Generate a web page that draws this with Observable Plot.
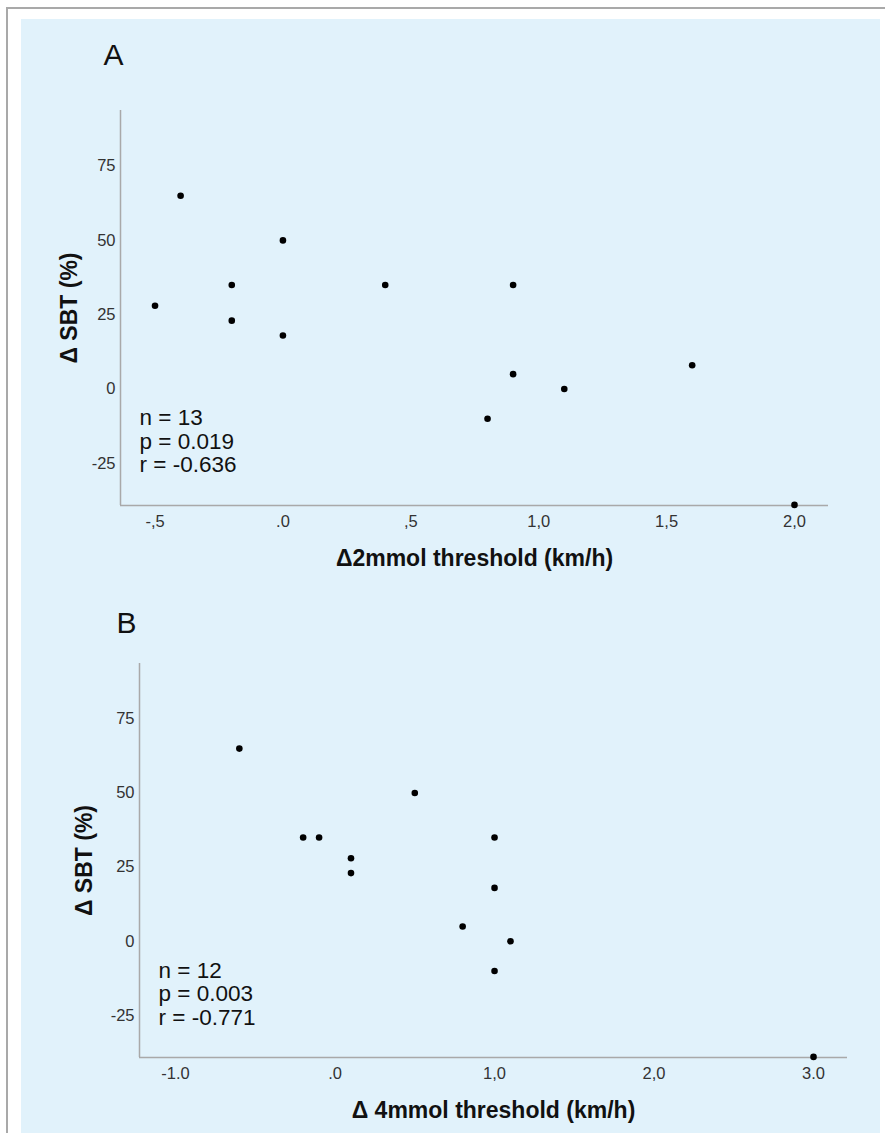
<!DOCTYPE html>
<html><head><meta charset="utf-8">
<script src="https://cdn.jsdelivr.net/npm/d3@7"></script>
<script src="https://cdn.jsdelivr.net/npm/@observablehq/plot@0.6"></script>
<style>
body{margin:0;background:#fff;}
#page{position:relative;width:885px;height:1133px;overflow:hidden;font-family:"Liberation Sans",Arial,sans-serif;}
.abs{position:absolute;}
</style></head><body>
<div id="page">
  <div class="abs" style="left:6px;top:7px;width:879px;height:2px;background:#a9a9a9"></div>
  <div class="abs" style="left:6px;top:7px;width:2px;height:1126px;background:#a9a9a9"></div>
  <div class="abs" style="left:21px;top:19px;width:859px;height:1114px;background:#e1f2fb"></div>
  <div id="chartA" class="abs" style="left:0;top:0"></div>
  <div id="chartB" class="abs" style="left:0;top:590px"></div>
</div>
<script>
// Panel A data
const xA = [-0.5, -0.4, -0.2, -0.2, 0.0, 0.0, 0.4, 0.9, 0.9, 1.1, 0.8, 1.6, 2.0];
const yA = [28, 65, 35, 23, 50, 18, 35, 35, 5, 0, -10, 8, -39];
// Panel B data
const xB = [-0.6, -0.2, -0.1, 0.1, 0.1, 0.5, 0.8, 1.0, 1.0, 1.1, 1.0, 3.0];
const yB = [65, 35, 35, 28, 23, 50, 5, 35, 18, 0, -10, -39];

const yTicks = [-25, 0, 25, 50, 75];
const yTickLabels = ["-25", "0", "25", "50", "75"];
const xTicksA = [-0.5, 0, 0.5, 1, 1.5, 2];
const xTickLabelsA = ["-,5", ".0", ",5", "1,0", "1,5", "2,0"];
const xTicksB = [-1, 0, 1, 2, 3];
const xTickLabelsB = ["-1.0", ".0", "1,0", "2,0", "3.0"];
const statsA = ["n = 13", "p = 0.019", "r = -0.636"];
const statsB = ["n = 12", "p = 0.003", "r = -0.771"];

const yDomain = [-39.2, 93.7];
const xDomainA = [-0.635, 2.133];
const xDomainB = [-1.226, 3.213];

const FONT = '"Liberation Sans", Arial, Helvetica, sans-serif';
const AXIS = "#a9a9a9";

function panel(o) {
  const data = o.xs.map((x, i) => ({x, y: o.ys[i]}));
  return Plot.plot({
    width: 885, height: o.height,
    marginLeft: o.ml, marginRight: o.mr, marginTop: o.mt, marginBottom: o.mb,
    style: {background: "transparent", fontFamily: FONT, fontSize: "16.5px", overflow: "visible"},
    x: {domain: o.xDomain},
    y: {domain: yDomain},
    marks: [
      Plot.ruleX([o.xDomain[0]], {stroke: AXIS, strokeWidth: 1.5}),
      Plot.ruleY([yDomain[0]], {stroke: AXIS, strokeWidth: 1.5}),
      Plot.axisX({ticks: o.xTicks, tickFormat: d => o.xLabels[o.xTicks.indexOf(d)], tickSize: 0, tickPadding: 10, fontSize: 16.5, color: "#333", label: null}),
      Plot.axisY({ticks: yTicks, tickFormat: d => yTickLabels[yTicks.indexOf(d)], tickSize: 0, tickPadding: 5, fontSize: 16.5, color: "#333", label: null}),
      Plot.dot(data, {x: "x", y: "y", r: 3.3, fill: "#000", stroke: null}),
      Plot.text([o.stats.join("\n")], {text: d => d, frameAnchor: "bottom-left", dx: o.sdx, dy: o.sdy, textAnchor: "start", lineAnchor: "middle", fontSize: 22.5, lineHeight: 23.5 / 22.5, fill: "#111"}),
      Plot.text([o.letter], {text: d => d, frameAnchor: "top-left", dx: o.ldx, dy: o.ldy, textAnchor: "middle", lineAnchor: "middle", fontSize: 30, fill: "#111"}),
      Plot.text([o.yLabel], {text: d => d, frameAnchor: "left", rotate: -90, dx: o.ydx, textAnchor: "middle", lineAnchor: "middle", fontWeight: "bold", fontSize: 23, fill: "#111"}),
      Plot.text([o.xLabel], {text: d => d, frameAnchor: "bottom", dy: o.xdy, textAnchor: "middle", lineAnchor: "middle", fontWeight: "bold", fontSize: 23, fill: "#111"})
    ]
  });
}

document.getElementById("chartA").append(panel({
  height: 590, ml: 120, mr: 57, mt: 110, mb: 85,
  xs: xA, ys: yA, xDomain: xDomainA, xTicks: xTicksA, xLabels: xTickLabelsA,
  stats: statsA, sdx: 19, sdy: -64.5,
  letter: "A", ldx: -7, ldy: -55,
  yLabel: "Δ SBT (%)", ydx: -51,
  xLabel: "Δ2mmol threshold (km/h)", xdy: 53
}));

document.getElementById("chartB").append(panel({
  height: 543, ml: 139, mr: 38, mt: 73, mb: 76,
  xs: xB, ys: yB, xDomain: xDomainB, xTicks: xTicksB, xLabels: xTickLabelsB,
  stats: statsB, sdx: 19, sdy: -64,
  letter: "B", ldx: -13, ldy: -40.5,
  yLabel: "Δ SBT (%)", ydx: -55,
  xLabel: "Δ 4mmol threshold (km/h)", xdy: 53
}));
</script>
</body></html>
